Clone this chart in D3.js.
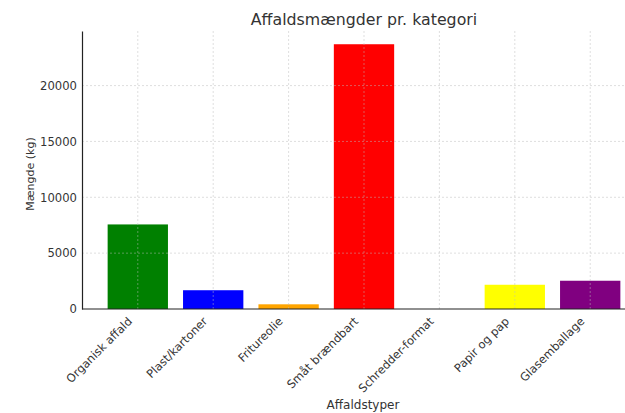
<!DOCTYPE html>
<html><head><meta charset="utf-8">
<script src="https://cdn.jsdelivr.net/npm/d3@7"></script>
<style>body{margin:0;background:#fff;} svg{display:block;font-family:"DejaVu Sans",sans-serif;}</style>
</head><body>
<svg id="c" width="625" height="413"></svg>
<script>
const categories = ["Organisk affald","Plast/kartoner","Fritureolie","Småt brændbart","Schredder-format","Papir og pap","Glasemballage"];
const values = [7570, 1680, 420, 23700, 0, 2170, 2530];
const colors = ["#008000","#0000ff","#ffa500","#ff0000","#ffffff","#ffff00","#800080"];
const yTicks = [0, 5000, 10000, 15000, 20000];

const svg = d3.select("#c");
const L = 82, R = 646, T = 31, B = 309;
const x = d3.scaleBand().domain(categories).range([L, R]).paddingInner(0.2).paddingOuter(0.34);
const y = d3.scaleLinear().domain([0, d3.max(values) * 1.05]).range([B, T]);

// bars
svg.append("g").selectAll("rect").data(categories).join("rect")
  .attr("x", d => x(d)).attr("width", x.bandwidth())
  .attr("y", (d, i) => y(values[i])).attr("height", (d, i) => y(0) - y(values[i]))
  .attr("fill", (d, i) => colors[i]);

// grid
svg.append("g").selectAll("line").data(yTicks.slice(1)).join("line")
  .attr("x1", L).attr("x2", R).attr("y1", d => y(d)).attr("y2", d => y(d))
  .attr("stroke", "#bbbbbb").attr("stroke-opacity", 0.6).attr("stroke-width", 0.8).attr("stroke-dasharray", "2,2");
svg.append("g").selectAll("line").data(categories).join("line")
  .attr("x1", d => x(d) + x.bandwidth() / 2).attr("x2", d => x(d) + x.bandwidth() / 2)
  .attr("y1", T).attr("y2", B)
  .attr("stroke", "#bbbbbb").attr("stroke-opacity", 0.6).attr("stroke-width", 0.8).attr("stroke-dasharray", "2,2");

// axes
const yAxis = d3.axisLeft(y).tickValues(yTicks).tickSize(0).tickPadding(5).tickFormat(d3.format("d"));
const ya = svg.append("g").attr("transform", `translate(${L},0)`).call(yAxis);
ya.select(".domain").attr("stroke", "#222").attr("stroke-width", 1.2);
ya.selectAll("text").attr("font-size", 11.6).attr("fill", "#333").attr("font-family", "DejaVu Sans");

const xAxis = d3.axisBottom(x).tickSize(0).tickPadding(0);
const xa = svg.append("g").attr("transform", `translate(0,${B})`).call(xAxis);
xa.select(".domain").attr("stroke", "#222").attr("stroke-width", 1.2).attr("d", `M${L},0H${R}`);
xa.selectAll("text").attr("font-size", 11.5).attr("fill", "#333").attr("font-family", "DejaVu Sans")
  .attr("text-anchor", "end").attr("dy", null).attr("y", 0)
  .attr("transform", "translate(-5,13) rotate(-45)");

// title & labels
svg.append("text").attr("x", (L + R) / 2).attr("y", 25).attr("text-anchor", "middle")
  .attr("font-size", 15.8).attr("fill", "#333").text("Affaldsmængder pr. kategori");
svg.append("text").attr("x", (L + R) / 2 - 1).attr("y", 409).attr("text-anchor", "middle")
  .attr("font-size", 12).attr("fill", "#333").text("Affaldstyper");
svg.append("text").attr("transform", `translate(34,${(T + B) / 2 + 4}) rotate(-90)`).attr("text-anchor", "middle")
  .attr("font-size", 11).attr("fill", "#333").text("Mængde (kg)");
</script>
</body></html>
